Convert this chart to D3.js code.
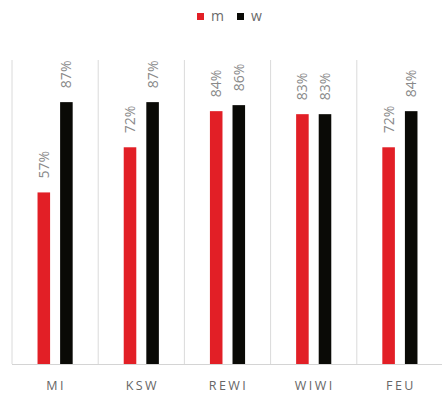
<!DOCTYPE html>
<html>
<head>
<meta charset="utf-8">
<script src="https://cdn.jsdelivr.net/npm/d3@7"></script>
<style>
  html, body { margin: 0; padding: 0; background: #fff; }
  svg { display: block; }
</style>
</head>
<body>
<svg id="chart" width="442" height="396"></svg>
<script>
// Faculty shares by gender
const categories = ["MI", "KSW", "REWI", "WIWI", "FEU"];
const seriesNames = ["m", "w"];
const mValues = [57, 72, 84, 83, 72];
const wValues = [87, 87, 86, 83, 84];
const seriesColors = ["#e21f26", "#0a0a06"];

const W = 442, H = 396;
const margin = { top: 63, right: 0, bottom: 32, left: 12 };
const svg = d3.select("#chart");

const x = d3.scaleBand().domain(categories).range([margin.left, W - margin.right + 1]);
const x1 = d3.scaleBand().domain(seriesNames).range([0, x.bandwidth()]).paddingInner(0.444).paddingOuter(1.13);
const y = d3.scaleLinear().domain([0, 100]).range([H - margin.bottom, margin.top]);

const font = "'Open Sans', 'Noto Sans', sans-serif";

// vertical separators between categories
const seps = categories.map(c => x(c)).concat([x.range()[1]]);
svg.append("g").selectAll("line").data(seps).join("line")
  .attr("x1", d => d).attr("x2", d => d)
  .attr("y1", 60).attr("y2", y(0))
  .attr("stroke", "#dadada").attr("stroke-width", 1);

// baseline
svg.append("line")
  .attr("x1", margin.left).attr("x2", W)
  .attr("y1", y(0) + 0.5).attr("y2", y(0) + 0.5)
  .attr("stroke", "#d4d4d4").attr("stroke-width", 1);

const rows = categories.map((c, i) => ({ cat: c, vals: [mValues[i], wValues[i]] }));

const groups = svg.append("g").selectAll("g").data(rows).join("g")
  .attr("transform", d => `translate(${x(d.cat)},0)`);

groups.selectAll("rect")
  .data(d => d.vals.map((v, j) => ({ key: seriesNames[j], v, j })))
  .join("rect")
  .attr("x", d => x1(d.key))
  .attr("width", x1.bandwidth())
  .attr("y", d => y(d.v))
  .attr("height", d => y(0) - y(d.v))
  .attr("fill", d => seriesColors[d.j]);

// rotated value labels
groups.selectAll("text")
  .data(d => d.vals.map((v, j) => ({ key: seriesNames[j], v, j })))
  .join("text")
  .attr("transform", d => `translate(${x1(d.key) + x1.bandwidth() / 2 + 5},${y(d.v) - 14}) rotate(-90)`)
  .attr("text-anchor", "start")
  .attr("font-family", font)
  .attr("font-size", 14)
  .attr("fill", "#8a8a8a")
  .text(d => d.v + "%");

// category axis labels
svg.append("g").selectAll("text").data(categories).join("text")
  .attr("x", d => x(d) + x.bandwidth() / 2 + 1)
  .attr("y", 390)
  .attr("text-anchor", "middle")
  .attr("font-family", font)
  .attr("font-size", 12.5)
  .attr("letter-spacing", 2.4)
  .attr("fill", "#666666")
  .text(d => d);

// legend
const legend = svg.append("g");
const legendX = [197, 237];
seriesNames.forEach((s, i) => {
  legend.append("rect")
    .attr("x", legendX[i]).attr("y", 13)
    .attr("width", 7).attr("height", 7)
    .attr("fill", seriesColors[i]);
  legend.append("text")
    .attr("x", legendX[i] + 14).attr("y", 21)
    .attr("font-family", font)
    .attr("font-size", 14)
    .attr("fill", "#6a6a6a")
    .text(s);
});
</script>
</body>
</html>
